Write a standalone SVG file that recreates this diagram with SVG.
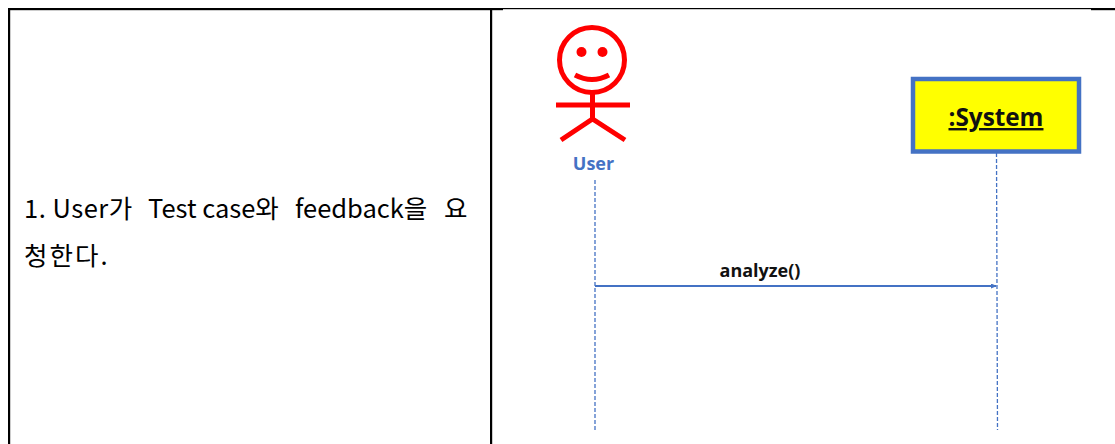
<svg xmlns="http://www.w3.org/2000/svg" width="1115" height="444" viewBox="0 0 1115 444">
<style>
.t{font-family:"Noto Sans CJK KR","Noto Sans",sans-serif;font-size:25.5px;fill:#000}
.b{font-family:"Open Sans","Noto Sans",sans-serif;font-weight:700}
.red{fill:none;stroke:#ff0000;stroke-width:5}
.ll{fill:none;stroke:#4472c4;stroke-width:1.3;stroke-dasharray:4 2}
</style>
<defs><marker id="ah" markerWidth="6" markerHeight="6" refX="5" refY="2.5" orient="auto" markerUnits="userSpaceOnUse"><path d="M0 0L6 2.5L0 5Z" fill="#4472c4"/></marker></defs>
<rect width="1115" height="444" fill="#fff"/>
<g id="table">
<rect x="8" y="8" width="495" height="2.2" fill="#000"/>
<rect x="503" y="8" width="588" height="1.2" fill="#000"/>
<rect x="1091" y="8" width="24" height="2.2" fill="#000"/>
<rect x="8" y="8" width="2.2" height="436" fill="#000"/>
<rect x="490" y="8" width="2.2" height="436" fill="#000"/>
</g>
<g id="description">
<text class="t" x="24" y="218" letter-spacing="0.5">1. User가</text>
<text class="t" x="148" y="218">Test case와</text>
<text class="t" x="295" y="218">feedback을</text>
<text class="t" x="444" y="218" font-size="28">요</text>
<text class="t" x="24" y="265" letter-spacing="2">청한다.</text>
</g>
<g id="connectors">
<path class="ll" d="M595 180V432"/>
<path class="ll" d="M996.500 153L997.500 430"/>
<path d="M595 286H996" stroke="#4472c4" stroke-width="2" fill="none" marker-end="url(#ah)"/>
<text class="b" x="760" y="277" font-size="18" text-anchor="middle" fill="#111">analyze()</text>
</g>
<g id="user">
<circle class="red" cx="592" cy="60" r="32.500"/>
<circle cx="581.500" cy="52" r="5" fill="#ff0000"/>
<circle cx="602.500" cy="52" r="5" fill="#ff0000"/>
<path class="red" d="M575 75Q592 84 609 75"/>
<path class="red" d="M592.500 93V119M556 105H630M561 140L592.500 119L625 140"/>
<text class="b" x="593.500" y="170" font-size="18" text-anchor="middle" fill="#4472c4">User</text>
</g>
<g id="system">
<rect x="913" y="79" width="166" height="72.500" fill="#ffff00" stroke="#4472c4" stroke-width="4.500"/>
<text class="b" x="996" y="126" font-size="24.300" text-anchor="middle" text-decoration="underline" fill="#111">:System</text>
</g>
</svg>
